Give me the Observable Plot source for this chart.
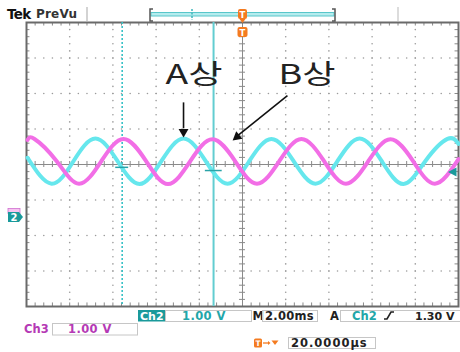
<!DOCTYPE html>
<html><head><meta charset="utf-8">
<script src="https://cdn.jsdelivr.net/npm/d3@7"></script>
<script src="https://cdn.jsdelivr.net/npm/@observablehq/plot@0.6"></script>
<style>
html,body{margin:0;padding:0;background:#fff;}
#wrap{position:relative;width:460px;height:352px;overflow:hidden;background:#fff;}
#wrap > svg{position:absolute;left:0;top:0;}
</style></head><body><div id="wrap"></div>
<script>
// ---- data (time in ms from left edge, 2 ms/div; volts, 1 V/div) ----
const phaseA_t = [0.05,1.16,2.18,3.19,4.21,5.23,6.25,7.27,8.29,9.31,10.32,11.34,12.36,13.38,14.40,15.42,16.44,17.45,18.47,19.49,20.0];
const phaseA_v = [0.19,-0.54,0.10,0.73,0.10,-0.55,0.10,0.73,0.10,-0.54,0.10,0.72,0.10,-0.54,0.10,0.73,0.10,-0.55,0.10,0.72,0.58];
const phaseB_t = [0.05,0.37,1.39,2.43,3.47,4.49,5.53,6.55,7.59,8.61,9.65,10.67,11.71,12.73,13.77,14.79,15.83,16.85,17.89,18.91,20.0];
const phaseB_v = [0.69,0.72,0.10,-0.54,0.10,0.72,0.10,-0.55,0.10,0.71,0.10,-0.54,0.10,0.72,0.10,-0.54,0.10,0.71,0.10,-0.54,0.15];
const cursorDashed = [4.43];
const cursorSolid = [8.66];
const annoLabels = ["A상","B상"];
const annoMs = [6.44, 11.67];
const annoV = [2.52, 2.52];
const readoutCh2 = ["Ch2","1.00 V"];
const readoutTime = ["M","2.00ms"];
const readoutTrig = ["A","Ch2","1.30 V"];
const readoutCh3 = ["Ch3","1.00 V"];
const readoutPos = ["20.0000µs"];
const headerLabels = ["Tek","PreVu"];

// ---- tables ----
const phaseA = phaseA_t.map((t,i)=>({t, v: phaseA_v[i]}));
const phaseB = phaseB_t.map((t,i)=>({t, v: phaseB_v[i]}));
const annos = annoLabels.map((label,i)=>({label, t: annoMs[i], v: annoV[i]}));

// graticule (decoration)
const vGrid = [2,4,6,8,12,14,16,18];
const hGrid = [-3,-2,-1,1,2,3];
const minorY = d3.range(-19,20).map(k=>k*0.2);
const minorX = d3.range(1,50).map(k=>k*0.4);
const gridDots = [];
vGrid.forEach(x=>minorY.forEach(y=>gridDots.push({x,y})));
hGrid.forEach(y=>minorX.forEach(x=>gridDots.push({x,y})));

const tc = "#8a8a8a";
const plot = Plot.plot({
  width:460, height:352,
  marginLeft:26, marginRight:2, marginTop:22, marginBottom:46,
  x:{domain:[0,20], axis:null},
  y:{domain:[-4,4], axis:null},
  style:{background:"transparent", overflow:"visible"},
  marks:[
    Plot.dot(gridDots,{x:"x", y:"y", r:0.8, fill:"#9a9a9a", stroke:null}),
    Plot.ruleY([0],{stroke:tc, strokeWidth:1}),
    Plot.ruleX([10],{stroke:tc, strokeWidth:1}),
    Plot.ruleX(minorX,{x:d=>d, y1:-0.085, y2:0.085, stroke:tc}),
    Plot.ruleY(minorY,{y:d=>d, x1:9.86, x2:10.14, stroke:tc}),
    Plot.ruleX(minorX,{x:d=>d, y1:-4, y2:-3.9, stroke:tc}),
    Plot.ruleX(minorX,{x:d=>d, y1:3.9, y2:4, stroke:tc}),
    Plot.ruleY(minorY,{y:d=>d, x1:0, x2:0.16, stroke:tc}),
    Plot.ruleY(minorY,{y:d=>d, x1:19.84, x2:20, stroke:tc}),
    Plot.frame({stroke:"#6a6a6a", strokeWidth:2}),
    Plot.ruleX(cursorDashed,{stroke:"#38c2c7", strokeWidth:1.6, strokeDasharray:"2,2"}),
    Plot.ruleX(cursorSolid,{stroke:"#62cdd1", strokeWidth:2}),
    Plot.line(phaseA,{x:"t", y:"v", stroke:"#66e7ed", strokeWidth:4, curve:"natural"}),
    Plot.line(phaseB,{x:"t", y:"v", stroke:"#f26ee6", strokeWidth:4, curve:"natural"}),
    Plot.ruleY(cursorDashed,{y:()=>-0.08, x1:d=>d-0.3, x2:d=>d+0.3, stroke:"#2aa3a8", strokeWidth:1.5}),
    Plot.ruleY(cursorSolid,{y:()=>-0.17, x1:d=>d-0.38, x2:d=>d+0.4, stroke:"#2aa3a8", strokeWidth:1.5}),
    Plot.text(annos,{x:"t", y:"v", text:"label", textAnchor:"start", fontSize:27, fill:"#222", fontFamily:"Noto Sans CJK KR"}),
    // arrows pointing at the two phases
    Plot.link([annos[0]],{x1:d=>d.t+0.83, y1:1.75, x2:d=>d.t+0.83, y2:1.02, stroke:"#111", strokeWidth:1.6}),
    Plot.dot([annos[0]],{x:d=>d.t+0.83, y:0.92, r:3.7, symbol:"triangle", rotate:180, fill:"#111", stroke:null}),
    Plot.link([annos[1]],{x1:d=>d.t+0.41, y1:1.94, x2:d=>d.t-1.92, y2:0.8, stroke:"#111", strokeWidth:1.6}),
    Plot.dot([annos[1]],{x:d=>d.t-1.92, y:0.78, r:3.7, symbol:"triangle", rotate:-129, fill:"#111", stroke:null})
  ]
});
d3.select(plot).selectAll("text").each(function(){
  if (annoLabels.includes(this.textContent)) {
    this.setAttribute("textLength", 57);
    this.setAttribute("lengthAdjust", "spacingAndGlyphs");
  }
});
document.getElementById("wrap").appendChild(plot);

// ---- oscilloscope chrome ----
const teal="#1a9a9b", tealTxt="#22a6a9", mag="#b53ab5", org="#f47b20";
const F='font-family="DejaVu Sans" font-weight="bold"';
const chrome = `
<svg width="460" height="352" xmlns="http://www.w3.org/2000/svg">
<text x="7" y="18.5" ${F} font-size="13.5" fill="#111" letter-spacing="-0.6">${headerLabels[0]}</text>
<text x="36" y="18" ${F} font-size="12" fill="#333" letter-spacing="0.2">${headerLabels[1]}</text>
<line x1="87" y1="7" x2="87" y2="21" stroke="#c4c4c4" stroke-width="1.5"/>
<line x1="398" y1="7" x2="398" y2="21" stroke="#d0d0d0" stroke-width="1.5"/>
<rect x="151" y="12.5" width="183" height="3.5" fill="#b5ecee" stroke="#58c6ca" stroke-width="1"/>
<path d="M153,9 H150 V21 H153" fill="none" stroke="#555" stroke-width="1.5"/>
<path d="M332,9 H335 V21 H332" fill="none" stroke="#555" stroke-width="1.5"/>
<line x1="192" y1="9" x2="192" y2="20" stroke="#3db7bc" stroke-width="1.5" stroke-dasharray="2,1.5"/>
<rect x="238" y="9" width="9" height="10" rx="2" fill="${org}"/>
<text x="242.5" y="17.5" ${F} font-size="8.5" fill="#fff" text-anchor="middle">T</text>
<path d="M239.5,19 L245.5,19 L242.5,23 Z" fill="${org}"/>
<rect x="237.5" y="27" width="10" height="10" rx="2" fill="${org}"/>
<text x="242.5" y="35.5" ${F} font-size="8.5" fill="#fff" text-anchor="middle">T</text>
<rect x="8" y="208.5" width="12" height="5" fill="#f6c4f0" stroke="#d070d0" stroke-width="0.8"/>
<path d="M8,212 H19 L23,217 L19,222 H8 Z" fill="${teal}"/>
<text x="14" y="221" ${F} font-size="10" fill="#fff" text-anchor="middle">2</text>
<path d="M448,172 L456.5,167.5 L456.5,176.5 Z" fill="${teal}"/>

<rect x="138" y="310" width="27" height="11.5" fill="${teal}"/>
<text x="140" y="319.8" ${F} font-size="11" fill="#fff">${readoutCh2[0]}</text>
<rect x="165.5" y="310.5" width="86" height="11" fill="none" stroke="#c6c6c6"/>
<text x="182" y="320" ${F} font-size="11.5" fill="${tealTxt}" letter-spacing="0.4">${readoutCh2[1]}</text>
<text x="252.5" y="320" ${F} font-size="11.5" fill="#222">${readoutTime[0]}</text>
<rect x="262.5" y="310.5" width="55" height="11" fill="none" stroke="#c6c6c6"/>
<text x="265" y="320" ${F} font-size="11.5" fill="#222" letter-spacing="0.3">${readoutTime[1]}</text>
<text x="330" y="320" ${F} font-size="11.5" fill="#222">${readoutTrig[0]}</text>
<rect x="340.5" y="310.5" width="125" height="11" fill="none" stroke="#c6c6c6"/>
<text x="352" y="320" ${F} font-size="11.5" fill="${tealTxt}">${readoutTrig[1]}</text>
<path d="M384,319 H387 L391,312 H394" fill="none" stroke="#222" stroke-width="1.6"/>
<text x="415" y="320" ${F} font-size="11" fill="#222">${readoutTrig[2]}</text>

<text x="24" y="333" ${F} font-size="11.5" fill="${mag}">${readoutCh3[0]}</text>
<rect x="52.5" y="323.5" width="85" height="11.5" fill="none" stroke="#c6c6c6"/>
<text x="68" y="333" ${F} font-size="11.5" fill="${mag}" letter-spacing="0.4">${readoutCh3[1]}</text>

<rect x="254" y="338.5" width="8" height="9" rx="1.5" fill="${org}"/>
<text x="258" y="346" ${F} font-size="7.5" fill="#fff" text-anchor="middle">T</text>
<line x1="263" y1="343" x2="268" y2="343" stroke="${org}" stroke-width="1.3"/>
<path d="M268,341 L270.5,343 L268,345 Z" fill="${org}"/>
<path d="M271.5,340.5 L278.5,340.5 L275,345 Z" fill="${org}"/>
<rect x="288.5" y="337.5" width="87" height="11" fill="none" stroke="#c6c6c6"/>
<text x="291" y="347" ${F} font-size="11.5" fill="#222" letter-spacing="1">${readoutPos[0]}</text>
</svg>`;
document.getElementById("wrap").insertAdjacentHTML("beforeend", chrome);
</script>
</body></html>
